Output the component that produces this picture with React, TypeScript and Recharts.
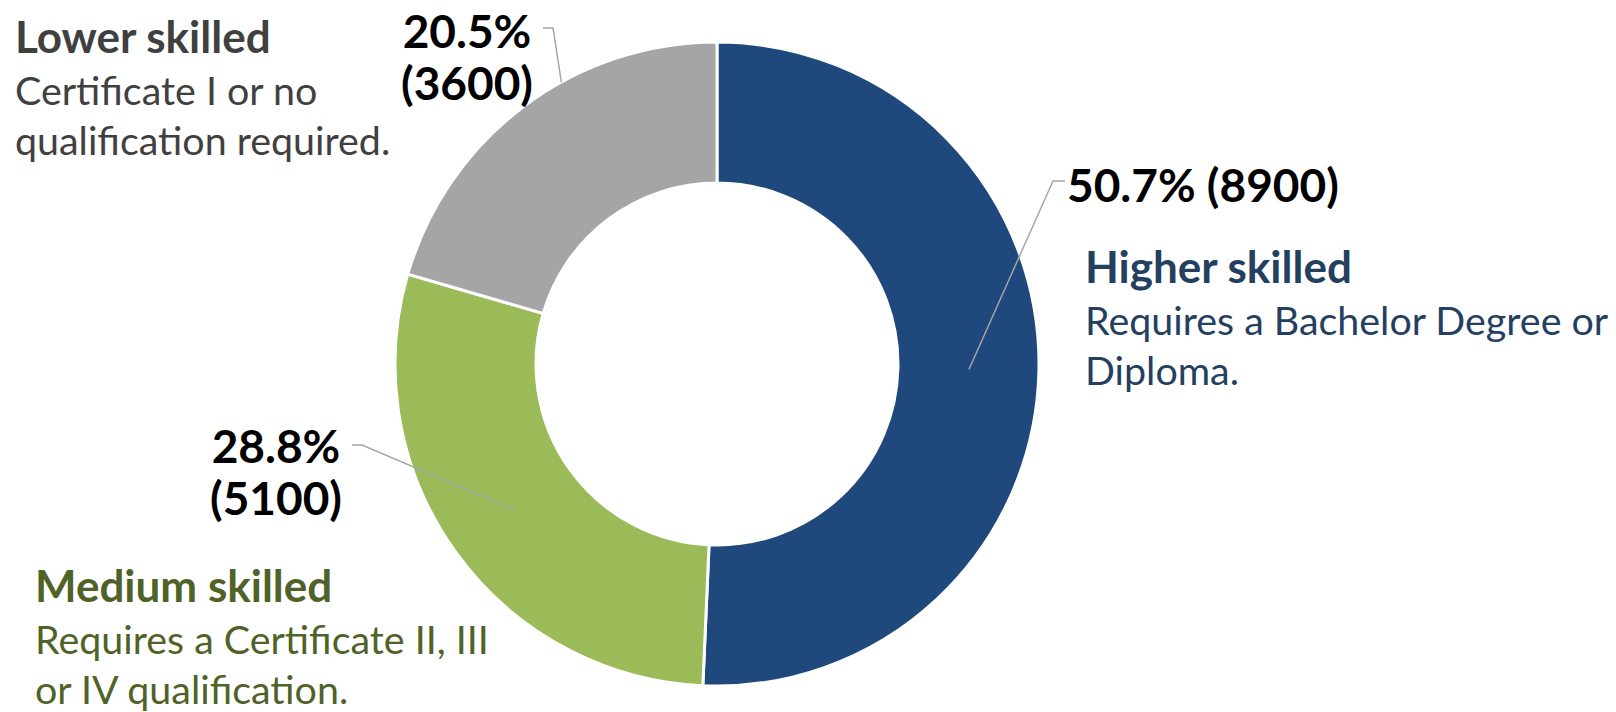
import { Cell, Pie, PieChart } from 'recharts'

const categories = ['Higher skilled', 'Medium skilled', 'Lower skilled']
const shares = [50.7, 28.8, 20.5]
const counts = [8900, 5100, 3600]
const descriptions = [
  ['Requires a Bachelor Degree or', 'Diploma.'],
  ['Requires a Certificate II, III', 'or IV qualification.'],
  ['Certificate I or no', 'qualification required.'],
]

const data = categories.map((name, i) => ({ name, value: shares[i], count: counts[i] }))

const sliceColors = ['#1F497D', '#9BBB59', '#A5A5A5']
const textColors = ['#243F60', '#4F6228', '#404040']
const FONT = 'Lato, "Open Sans", sans-serif'
const RAD = Math.PI / 180

// where each value label, leader line and category note sits
const labelLayout = [
  { twoLine: false, x: 1067, y: 202, elbow: [[1065, 181], [1053, 181]], tipR: 252, tipShift: 0, titleX: 1085, titleY: 283 },
  { twoLine: true, x: 276, y: 463, elbow: [[352, 445], [362, 445]], tipR: 250, tipShift: 0, titleX: 35, titleY: 602 },
  { twoLine: true, x: 467, y: 48, elbow: [[543, 28], [553, 28]], tipR: 322, tipShift: -8, titleX: 15, titleY: 53 },
]

const VALUE_SIZE = 46
const TITLE_SIZE = 44
const DESC_SIZE = 39.4

function renderLabel(props: any) {
  const { cx, cy, midAngle, index } = props
  const l = labelLayout[index]
  const a = (midAngle + l.tipShift) * RAD
  const tip = [cx + l.tipR * Math.cos(-a), cy + l.tipR * Math.sin(-a)]
  const pts = [...l.elbow, tip].map((p) => p.join(',')).join(' ')
  const pct = `${shares[index].toFixed(1)}%`
  const cnt = `(${counts[index]})`

  return (
    <g>
      <polyline points={pts} fill="none" stroke="#A6A6A6" strokeWidth={1.5} />
      {l.twoLine ? (
        <text x={l.x} y={l.y} textAnchor="middle" fontFamily={FONT} fontWeight={700} fontSize={VALUE_SIZE} fill="#000">
          <tspan x={l.x} y={l.y}>{pct}</tspan>
          <tspan x={l.x} y={l.y + 52}>{cnt}</tspan>
        </text>
      ) : (
        <text x={l.x} y={l.y} textAnchor="start" fontFamily={FONT} fontWeight={700} fontSize={VALUE_SIZE} fill="#000">
          {`${pct} ${cnt}`}
        </text>
      )}
      <text fontFamily={FONT} fill={textColors[index]}>
        <tspan x={l.titleX} y={l.titleY} fontWeight={700} fontSize={TITLE_SIZE}>
          {categories[index]}
        </tspan>
        {descriptions[index].map((line, j) => (
          <tspan key={j} x={l.titleX} y={l.titleY + 52 + j * 50} fontSize={DESC_SIZE}>
            {line}
          </tspan>
        ))}
      </text>
    </g>
  )
}

export default function App() {
  return (
    <div style={{ position: 'absolute', left: 0, top: 0, width: 1616, height: 712, background: '#fff' }}>
      <PieChart width={1616} height={712} margin={{ top: 0, right: 0, bottom: 0, left: 0 }}>
        <Pie
          data={data}
          dataKey="value"
          nameKey="name"
          cx={717}
          cy={364}
          innerRadius={181}
          outerRadius={322}
          startAngle={90}
          endAngle={-270}
          stroke="#fff"
          strokeWidth={3}
          label={renderLabel}
          labelLine={false}
          isAnimationActive={false}
        >
          {data.map((d, i) => (
            <Cell key={d.name} fill={sliceColors[i]} />
          ))}
        </Pie>
      </PieChart>
    </div>
  )
}
